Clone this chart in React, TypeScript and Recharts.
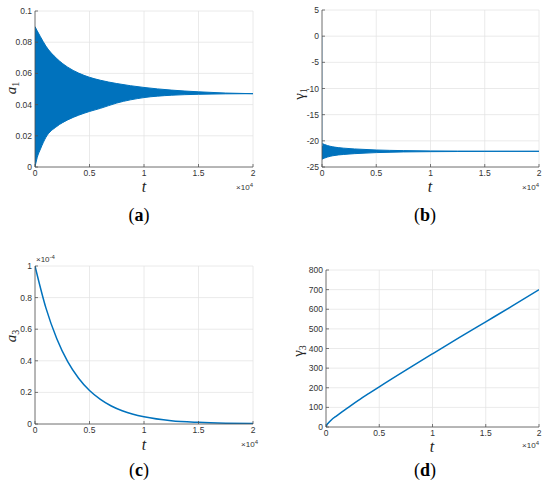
import React from 'react';
import { ComposedChart, Area, Line, XAxis, YAxis, CartesianGrid } from 'recharts';

const tTicks = [0, 0.5, 1, 1.5, 2];

// (a) a1: upper / lower envelope of the fast oscillation
const aT = [0, 0.02, 0.05, 0.1, 0.2, 0.3, 0.4, 0.5, 0.6, 0.75, 1, 1.25, 1.5, 1.75, 2];
const aUpper = [0.09, 0.0873, 0.0835, 0.0775, 0.0695, 0.064, 0.0602, 0.0575, 0.0556, 0.0535, 0.051, 0.0493, 0.0482, 0.0474, 0.047];
const aLower = [0, 0.006, 0.0115, 0.019, 0.026, 0.0302, 0.0332, 0.0356, 0.0376, 0.041, 0.0445, 0.046, 0.0466, 0.0469, 0.047];
const aTicks = [0, 0.02, 0.04, 0.06, 0.08, 0.1];

// (b) gamma1
const bT = [0, 0.05, 0.1, 0.2, 0.3, 0.5, 0.75, 1, 1.25, 1.5, 2];
const bUpper = [-20.5, -20.9, -21.15, -21.4, -21.55, -21.75, -21.87, -21.93, -21.96, -21.98, -22];
const bLower = [-23.5, -23.1, -22.85, -22.6, -22.45, -22.25, -22.12, -22.07, -22.04, -22.02, -22];
const bSpikeT = [0, 0.002];
const bSpikeV = [0, -21];
const bTicks = [-25, -20, -15, -10, -5, 0, 5];

// (c) a3, in units of 1e-4
const cT = [0, 0.1, 0.2, 0.3, 0.4, 0.5, 0.6, 0.7, 0.8, 0.9, 1, 1.25, 1.5, 1.75, 2];
const cVal = [1, 0.735, 0.54, 0.395, 0.29, 0.212, 0.156, 0.114, 0.084, 0.062, 0.046, 0.021, 0.0105, 0.005, 0.0025];
const cTicks = [0, 0.2, 0.4, 0.6, 0.8, 1];

// (d) gamma3
const dT = [0, 0.01, 0.02, 0.05, 0.1, 0.15, 0.2, 0.3, 0.4, 0.5, 0.75, 1, 1.25, 1.5, 1.75, 2];
const dVal = [0, 12, 19, 36, 57, 77, 96, 134, 170, 205, 290, 373, 455, 536, 617, 700];
const dTicks = [0, 100, 200, 300, 400, 500, 600, 700, 800];

const BLUE = '#0072BD';
const AXIS = '#4d4d4d';
const GRID = '#e3e3e3';
const TICK_FONT = { fill: '#333', fontSize: 8.5, fontFamily: 'Liberation Sans, Arial, sans-serif' };

const aData = aT.map((t, i) => ({ t, band: [aLower[i], aUpper[i]] }));
const bData = [
  ...bSpikeT.map((t, i) => ({ t, spike: bSpikeV[i] })),
  ...bT.map((t, i) => ({ t, band: [bLower[i], bUpper[i]] })),
];
const cData = cT.map((t, i) => ({ t, v: cVal[i] }));
const dData = dT.map((t, i) => ({ t, v: dVal[i] }));

type PanelProps = {
  data: object[];
  left: number;
  top: number;
  right: number;
  bottom: number;
  yDomain: [number, number];
  yTicks: number[];
  children: React.ReactNode;
};

function Panel({ data, left, top, right, bottom, yDomain, yTicks, children }: PanelProps) {
  const yw = 40;
  const xh = 25;
  const width = right - left + yw + 5;
  const height = bottom - top + 5 + xh;
  const common = {
    stroke: AXIS,
    strokeWidth: 0.75,
    tickSize: -3,
    tickMargin: 6,
    interval: 0 as const,
    allowDataOverflow: true,
    type: 'number' as const,
  };
  return (
    <div style={{ position: 'absolute', left: left - yw, top: top - 5 }}>
      <ComposedChart width={width} height={height} data={data} margin={{ top: 5, right: 5, bottom: 0, left: 0 }}>
        <CartesianGrid stroke={GRID} strokeWidth={0.75} />
        <XAxis dataKey="t" domain={[0, 2]} ticks={tTicks} height={xh} tick={TICK_FONT} {...common} />
        <XAxis xAxisId="top" orientation="top" dataKey="t" domain={[0, 2]} ticks={tTicks} height={0} tick={false} {...common} />
        <YAxis domain={yDomain} ticks={yTicks} width={yw} tick={TICK_FONT} {...common} />
        <YAxis yAxisId="right" orientation="right" domain={yDomain} ticks={yTicks} width={0} tick={false} {...common} />
        {children}
      </ComposedChart>
    </div>
  );
}

const serif = 'Liberation Serif, Times New Roman, serif';
const sans = 'Liberation Sans, Arial, sans-serif';

function Note({ x, y, children, style }: { x: number; y: number; children: React.ReactNode; style?: React.CSSProperties }) {
  return (
    <div
      style={{
        position: 'absolute',
        left: x,
        top: y,
        transform: 'translate(-50%, -50%)',
        whiteSpace: 'nowrap',
        lineHeight: 1,
        ...style,
      }}
    >
      {children}
    </div>
  );
}

function YLabel({ x, y, sym, sub, italic }: { x: number; y: number; sym: string; sub: string; italic: boolean }) {
  return (
    <Note x={x} y={y} style={{ transform: 'translate(-50%, -50%) rotate(-90deg)', fontFamily: serif, fontSize: 15, color: '#222' }}>
      <span style={{ fontStyle: italic ? 'italic' : 'normal' }}>{sym}</span>
      <span style={{ fontSize: 10, position: 'relative', top: 3 }}>{sub}</span>
    </Note>
  );
}

function XLabel({ x, y }: { x: number; y: number }) {
  return (
    <Note x={x} y={y} style={{ fontFamily: serif, fontStyle: 'italic', fontSize: 16, color: '#222' }}>
      t
    </Note>
  );
}

function Exp({ right, y, power }: { right: number; y: number; power: string }) {
  return (
    <div style={{ position: 'absolute', right: 550 - right, top: y - 5, whiteSpace: 'nowrap', fontFamily: sans, fontSize: 8, color: '#333', lineHeight: 1 }}>
      {'\u00d710'}
      <span style={{ fontSize: 6, position: 'relative', top: -3 }}>{power}</span>
    </div>
  );
}

function Caption({ x, y, letter }: { x: number; y: number; letter: string }) {
  return (
    <Note x={x} y={y} style={{ fontFamily: serif, fontSize: 18, color: '#000' }}>
      (<b>{letter}</b>)
    </Note>
  );
}

export default function App() {
  return (
    <div style={{ position: 'absolute', left: 0, top: 0, width: 550, height: 493, background: '#fff', overflow: 'hidden' }}>
      <Panel data={aData} left={35} top={11} right={253} bottom={167} yDomain={[0, 0.1]} yTicks={aTicks}>
        <Area dataKey="band" type="monotone" stroke={BLUE} strokeWidth={1} fill={BLUE} fillOpacity={1} isAnimationActive={false} />
      </Panel>
      <Panel data={bData} left={322} top={10} right={539} bottom={167} yDomain={[-25, 5]} yTicks={bTicks}>
        <Area dataKey="band" type="monotone" stroke={BLUE} strokeWidth={1} fill={BLUE} fillOpacity={1} connectNulls isAnimationActive={false} />
        <Line dataKey="spike" type="linear" stroke="#7fb4dc" strokeWidth={0.8} dot={false} connectNulls isAnimationActive={false} />
      </Panel>
      <Panel data={cData} left={35} top={266} right={253} bottom={424} yDomain={[0, 1]} yTicks={cTicks}>
        <Line dataKey="v" type="monotone" stroke={BLUE} strokeWidth={1.5} dot={false} isAnimationActive={false} />
      </Panel>
      <Panel data={dData} left={326} top={270} right={539} bottom={427} yDomain={[0, 800]} yTicks={dTicks}>
        <Line dataKey="v" type="monotone" stroke={BLUE} strokeWidth={1.5} dot={false} isAnimationActive={false} />
      </Panel>

      <YLabel x={11} y={88} sym="a" sub="1" italic />
      <YLabel x={299} y={94} sym={'\u03b3'} sub="1" italic={false} />
      <YLabel x={11} y={336} sym="a" sub="3" italic />
      <YLabel x={298} y={351} sym={'\u03b3'} sub="3" italic={false} />

      <XLabel x={144} y={187} />
      <XLabel x={430} y={187} />
      <XLabel x={144} y={445} />
      <XLabel x={432} y={447} />

      <Exp right={253} y={189} power="4" />
      <Exp right={539} y={189} power="4" />
      <Exp right={258} y={446} power="4" />
      <Exp right={539} y={447} power="4" />
      <div style={{ position: 'absolute', left: 36, top: 256, whiteSpace: 'nowrap', fontFamily: sans, fontSize: 8, color: '#333', lineHeight: 1 }}>
        {'\u00d710'}
        <span style={{ fontSize: 6, position: 'relative', top: -3 }}>-4</span>
      </div>

      <Caption x={139} y={215} letter="a" />
      <Caption x={425} y={215} letter="b" />
      <Caption x={139} y={470} letter="c" />
      <Caption x={425} y={470} letter="d" />
    </div>
  );
}
